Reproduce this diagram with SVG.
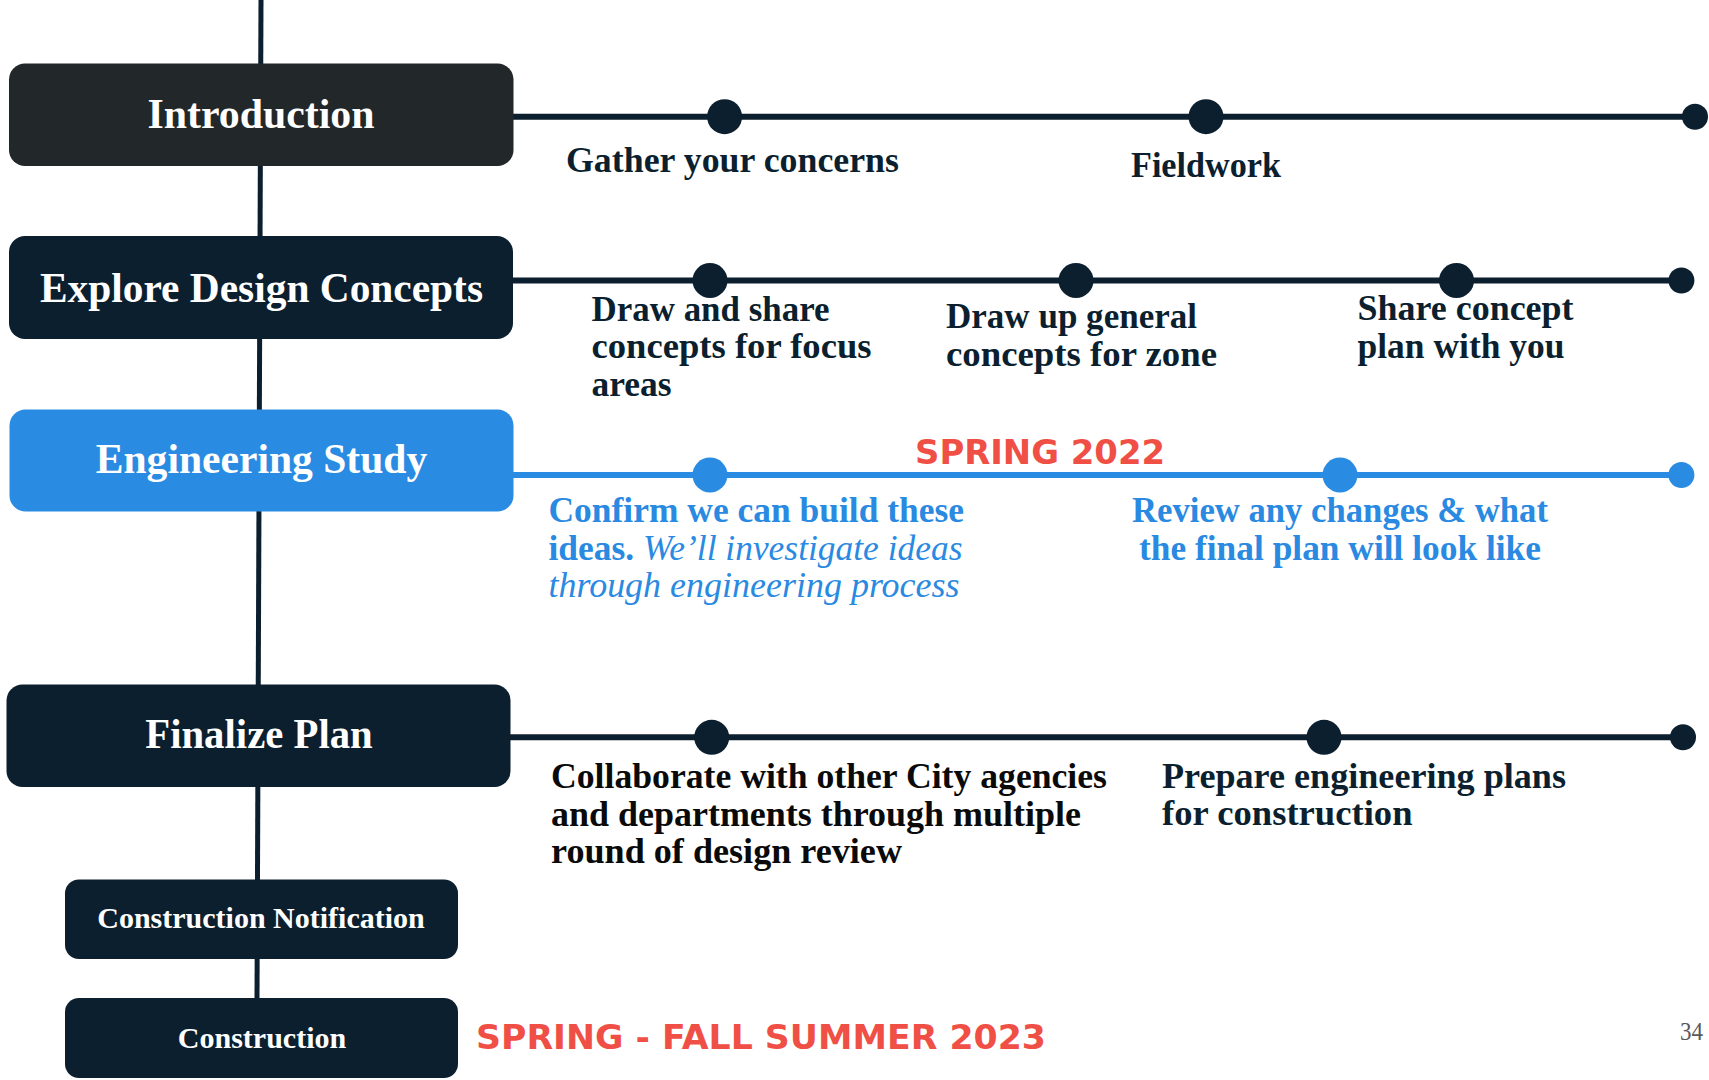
<svg xmlns="http://www.w3.org/2000/svg" width="1709" height="1080" viewBox="0 0 1709 1080">
  <style>
    .node { fill: #0c1f2f; }
    .node-intro { fill: #222829; }
    .node-eng { fill: #2a8be3; }
    .title { font-family: "Liberation Serif", "Times New Roman", serif; font-weight: bold; fill: #ffffff; text-anchor: middle; }
    .desc { font-family: "Liberation Serif", "Times New Roman", serif; font-weight: bold; font-size: 35.5px; fill: #0c1f2f; }
    .desc-blue { fill: #2a8ae2; }
    .desc-black { fill: #0a0a0a; }
    .it { font-weight: normal; font-style: italic; }
    .date { font-family: "DejaVu Sans", "Liberation Sans", sans-serif; font-weight: bold; fill: #f04f45; }
    .trunk { stroke: #0c1f2f; stroke-width: 5; fill: none; }
    .track { stroke: #0c1f2f; stroke-width: 6; fill: none; }
    .track-blue { stroke: #2a8be3; }
    .dot { fill: #0c1f2f; }
    .dot-blue { fill: #2a8be3; }
    .page { font-family: "Liberation Serif", "Times New Roman", serif; font-size: 26px; fill: #595959; }
  </style>

  <rect width="1709" height="1080" fill="#ffffff"/>

  <!-- connectors: vertical spine and horizontal phase tracks -->
  <g id="connectors">
    <line class="trunk" x1="261" y1="0" x2="257" y2="998"/>

    <line class="track" x1="512" y1="116.7" x2="1695" y2="116.7"/>
    <circle class="dot" cx="724.6" cy="116.7" r="17.5"/>
    <circle class="dot" cx="1206" cy="116.7" r="17.5"/>
    <circle class="dot" cx="1695" cy="116.7" r="13"/>

    <line class="track" x1="512" y1="280.5" x2="1681" y2="280.5"/>
    <circle class="dot" cx="710" cy="280.5" r="17.5"/>
    <circle class="dot" cx="1076" cy="280.5" r="17.5"/>
    <circle class="dot" cx="1456.5" cy="280.5" r="17.5"/>
    <circle class="dot" cx="1681.4" cy="280.5" r="13"/>

    <line class="track track-blue" x1="512" y1="475" x2="1681" y2="475"/>
    <circle class="dot-blue" cx="710" cy="475" r="17.5"/>
    <circle class="dot-blue" cx="1340" cy="475" r="17.5"/>
    <circle class="dot-blue" cx="1681.4" cy="475" r="13"/>

    <line class="track" x1="510" y1="737.3" x2="1683" y2="737.3"/>
    <circle class="dot" cx="711.7" cy="737.3" r="17.5"/>
    <circle class="dot" cx="1324" cy="737.3" r="17.5"/>
    <circle class="dot" cx="1683" cy="737.3" r="13"/>
  </g>

  <!-- phase nodes -->
  <g id="node-introduction">
    <rect class="node-intro" x="9" y="63.5" width="504.5" height="102.5" rx="16"/>
    <text class="title" x="261" y="128" font-size="41.5" textLength="227" lengthAdjust="spacingAndGlyphs">Introduction</text>
  </g>

  <g id="node-explore">
    <rect class="node" x="9" y="236" width="504" height="103" rx="16"/>
    <text class="title" x="261.5" y="302" font-size="41.5" textLength="443" lengthAdjust="spacingAndGlyphs">Explore Design Concepts</text>
  </g>

  <g id="node-engineering">
    <rect class="node-eng" x="9.5" y="409.5" width="504" height="102" rx="16"/>
    <text class="title" x="261.5" y="473.3" font-size="41.5" textLength="331.5" lengthAdjust="spacingAndGlyphs">Engineering Study</text>
  </g>

  <g id="node-finalize">
    <rect class="node" x="6.5" y="684.5" width="504" height="102.5" rx="16"/>
    <text class="title" x="259" y="748.3" font-size="41.5" textLength="227.5" lengthAdjust="spacingAndGlyphs">Finalize Plan</text>
  </g>

  <g id="node-notification">
    <rect class="node" x="65" y="879.5" width="393" height="79.5" rx="14"/>
    <text class="title" x="261" y="928.3" font-size="30" textLength="327.5" lengthAdjust="spacingAndGlyphs">Construction Notification</text>
  </g>

  <g id="node-construction">
    <rect class="node" x="65" y="998" width="393" height="80" rx="14"/>
    <text class="title" x="262" y="1047.7" font-size="30" textLength="168.5" lengthAdjust="spacingAndGlyphs">Construction</text>
  </g>

  <!-- milestone labels -->
  <g id="labels-introduction">
    <text class="desc" x="566" y="171.7" textLength="333" lengthAdjust="spacingAndGlyphs">Gather your concerns</text>
    <text class="desc" x="1131" y="176.7" textLength="150" lengthAdjust="spacingAndGlyphs">Fieldwork</text>
  </g>

  <g id="labels-explore">
    <text class="desc" x="591.5" y="320.7" textLength="238" lengthAdjust="spacingAndGlyphs">Draw and share</text>
    <text class="desc" x="591.5" y="358.3" textLength="280" lengthAdjust="spacingAndGlyphs">concepts for focus</text>
    <text class="desc" x="591.5" y="395.5">areas</text>
    <text class="desc" x="946" y="328.3" textLength="251" lengthAdjust="spacingAndGlyphs">Draw up general</text>
    <text class="desc" x="946" y="366" textLength="271" lengthAdjust="spacingAndGlyphs">concepts for zone</text>
    <text class="desc" x="1357.5" y="320" textLength="216" lengthAdjust="spacingAndGlyphs">Share concept</text>
    <text class="desc" x="1357.5" y="358.3" textLength="207" lengthAdjust="spacingAndGlyphs">plan with you</text>
  </g>

  <g id="labels-engineering">
    <text class="date" x="915" y="464" font-size="34" textLength="250" lengthAdjust="spacingAndGlyphs">SPRING 2022</text>
    <text class="desc desc-blue" x="548.5" y="521.7" textLength="415.5" lengthAdjust="spacingAndGlyphs">Confirm we can build these</text>
    <text class="desc desc-blue" x="548.5" y="560" textLength="414" lengthAdjust="spacingAndGlyphs">ideas.<tspan class="it"> We’ll investigate ideas</tspan></text>
    <text class="desc desc-blue it" x="548.5" y="597.3" textLength="411" lengthAdjust="spacingAndGlyphs">through engineering process</text>
    <text class="desc desc-blue" x="1340" y="521.7" text-anchor="middle" textLength="416" lengthAdjust="spacingAndGlyphs">Review any changes &amp; what</text>
    <text class="desc desc-blue" x="1340" y="560" text-anchor="middle" textLength="402" lengthAdjust="spacingAndGlyphs">the final plan will look like</text>
  </g>

  <g id="labels-finalize">
    <text class="desc desc-black" x="551" y="787.7" textLength="556" lengthAdjust="spacingAndGlyphs">Collaborate with other City agencies</text>
    <text class="desc desc-black" x="551" y="825.7" textLength="530" lengthAdjust="spacingAndGlyphs">and departments through multiple</text>
    <text class="desc desc-black" x="551" y="862.7" textLength="351" lengthAdjust="spacingAndGlyphs">round of design review</text>
    <text class="desc" x="1162" y="787.7" textLength="404" lengthAdjust="spacingAndGlyphs">Prepare engineering plans</text>
    <text class="desc" x="1162" y="825" textLength="250.5" lengthAdjust="spacingAndGlyphs">for construction</text>
  </g>

  <g id="labels-construction">
    <text class="date" x="476" y="1049" font-size="34.5" textLength="570" lengthAdjust="spacingAndGlyphs">SPRING - FALL SUMMER 2023</text>
  </g>

  <text class="page" x="1680" y="1040" textLength="23" lengthAdjust="spacingAndGlyphs">34</text>
</svg>
